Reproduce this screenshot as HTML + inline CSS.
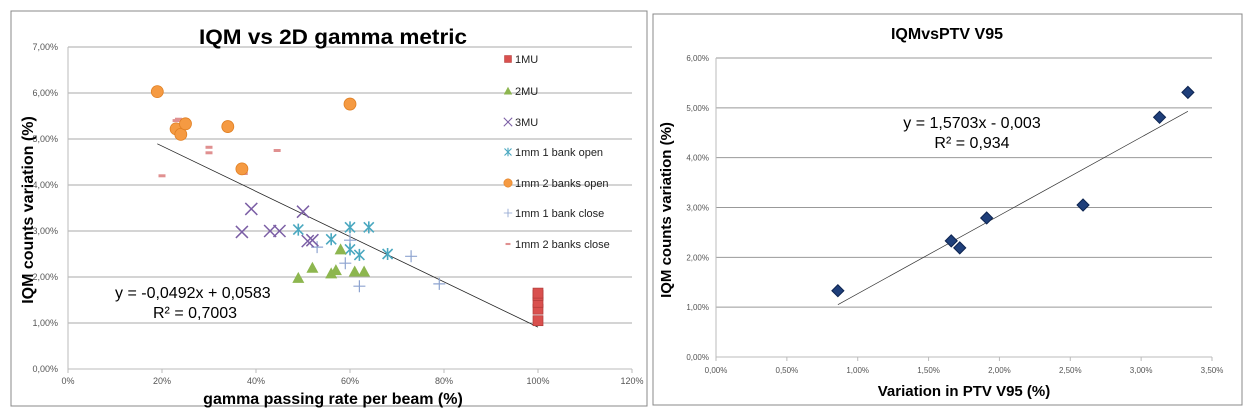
<!DOCTYPE html>
<html><head><meta charset="utf-8"><style>
body{margin:0;width:1250px;height:412px;background:#fff;overflow:hidden;font-family:"Liberation Sans",sans-serif}
svg{position:absolute;left:0;top:0}
</style></head><body>
<svg width="1250" height="412">
<rect x="11" y="11" width="636" height="395" fill="#fff" stroke="#888"/>
<rect x="653" y="14" width="589" height="391" fill="#fff" stroke="#888"/>
<g id="L"></g><g id="R"></g>
<text x="333" y="44" font-size="21" font-weight="bold" text-anchor="middle" textLength="268" lengthAdjust="spacingAndGlyphs">IQM vs 2D gamma metric</text>
<text x="333" y="404" font-size="16" font-weight="bold" text-anchor="middle">gamma passing rate per beam (%)</text>
<text transform="translate(33,210) rotate(-90)" font-size="16" font-weight="bold" text-anchor="middle">IQM counts variation (%)</text>
<text x="115" y="298" font-size="16">y = -0,0492x + 0,0583</text>
<text x="153" y="318" font-size="16">R² = 0,7003</text>
<text x="947" y="39" font-size="16" font-weight="bold" text-anchor="middle">IQMvsPTV V95</text>
<text x="964" y="396" font-size="15" font-weight="bold" text-anchor="middle">Variation in PTV V95 (%)</text>
<text transform="translate(671,210) rotate(-90)" font-size="15" font-weight="bold" text-anchor="middle">IQM counts variation (%)</text>
<text x="972" y="128" font-size="16" text-anchor="middle">y = 1,5703x - 0,003</text>
<text x="972" y="148" font-size="16" text-anchor="middle">R² = 0,934</text>
</svg>
<script>
// Left chart data (x in %, y in %)
const mu1X=[100,100,100,100,100];const mu1Y=[1.05,1.3,1.45,1.6,1.65];
const mu2X=[49,52,56,57,58,61,63];const mu2Y=[1.98,2.2,2.08,2.15,2.6,2.12,2.12];
const mu3X=[37,39,43,45,50,51,52];const mu3Y=[2.98,3.48,3.0,3.0,3.42,2.78,2.8];
const b1oX=[49,56,60,60,62,64,68];const b1oY=[3.03,2.82,3.08,2.6,2.48,3.08,2.5];
const b2oX=[19,23,24,25,34,37,60];const b2oY=[6.03,5.22,5.1,5.33,5.27,4.35,5.76];
const b1cX=[53,59,60,62,73,79];const b1cY=[2.65,2.3,2.8,1.8,2.45,1.85];
const b2cX=[20,23,23.5,30,30,37.5,44.5];const b2cY=[4.2,5.4,5.43,4.82,4.7,4.25,4.75];
const leftXTicks=["0%","20%","40%","60%","80%","100%","120%"];
const leftYTicks=["0,00%","1,00%","2,00%","3,00%","4,00%","5,00%","6,00%","7,00%"];
const leftTrend=[-0.0492,0.0583];const leftTrendRange=[19,100];
// Right chart data
const ptvX=[0.86,1.66,1.72,1.91,2.59,3.13,3.33];
const ptvY=[1.33,2.33,2.19,2.79,3.05,4.81,5.31];
const rightXTicks=["0,00%","0,50%","1,00%","1,50%","2,00%","2,50%","3,00%","3,50%"];
const rightYTicks=["0,00%","1,00%","2,00%","3,00%","4,00%","5,00%","6,00%"];
const rightTrend=[1.5703,-0.003];const rightTrendRange=[0.86,3.33];

const NS="http://www.w3.org/2000/svg";
function mk(p,t,a){const e=document.createElementNS(NS,t);for(const k in a)e.setAttribute(k,a[k]);p.appendChild(e);return e;}
const L=document.getElementById('L'),R=document.getElementById('R');
const lx=v=>68+v/120*564, ly=v=>369-v/7*322;
const rx=v=>716+v/3.5*496, ry=v=>357-v/6*299;

leftYTicks.forEach((t,i)=>{
 let g=mk(L,'line',{x1:68,x2:632,y1:ly(i),y2:ly(i),stroke:i==0?'#bbb':'#aaa','stroke-width':1});
 
 
 let tx=mk(L,'text',{x:58,y:ly(i)+3,'font-size':9,fill:'#555','text-anchor':'end'});tx.textContent=t;
 
 
});
mk(L,'line',{x1:68,x2:68,y1:ly(7),y2:ly(0),stroke:'#bbb'});
leftXTicks.forEach((t,i)=>{
 const x=lx(i*20);
 mk(L,'line',{x1:x,x2:x,y1:369,y2:373,stroke:'#bbb'});
 let tx=mk(L,'text',{x:x,y:384,'font-size':9,fill:'#555','text-anchor':'middle'});tx.textContent=t;
 
 
});
let tl=mk(L,'line',{x1:lx(leftTrendRange[0]),y1:ly((leftTrend[0]*leftTrendRange[0]/100+leftTrend[1])*100),x2:lx(leftTrendRange[1]),y2:ly((leftTrend[0]*leftTrendRange[1]/100+leftTrend[1])*100),stroke:'#222','stroke-width':0.8});



function marker(p,type,x,y){
 const g=mk(p,'g',{});
 if(type=='sq')mk(g,'rect',{x:x-5,y:y-5,width:10,height:10,fill:'#d9504e',stroke:'#b03a38','stroke-width':0.7});
 if(type=='tri')mk(g,'polygon',{points:`${x},${y-6} ${x-6},${y+5} ${x+6},${y+5}`,fill:'#8db64f'});
 if(type=='x'){mk(g,'path',{d:`M${x-6} ${y-6}L${x+6} ${y+6}M${x+6} ${y-6}L${x-6} ${y+6}`,stroke:'#7b5ea5','stroke-width':1.5});}
 if(type=='ast'){mk(g,'path',{d:`M${x-5} ${y-5}L${x+5} ${y+5}M${x+5} ${y-5}L${x-5} ${y+5}M${x} ${y-6}L${x} ${y+6}`,stroke:'#4aa8c0','stroke-width':1.6});}
 if(type=='circ')mk(g,'circle',{cx:x,cy:y,r:6,fill:'#f59a42',stroke:'#e07f22','stroke-width':0.8});
 if(type=='plus')mk(g,'path',{d:`M${x-6} ${y}L${x+6} ${y}M${x} ${y-6}L${x} ${y+6}`,stroke:'#8ea4d0','stroke-width':1.2});
 if(type=='dash')mk(g,'rect',{x:x-3.5,y:y-1.5,width:7,height:3,fill:'#e09090'});
 if(type=='dia')mk(g,'polygon',{points:`${x},${y-6} ${x+6},${y} ${x},${y+6} ${x-6},${y}`,fill:'#1f3f7a',stroke:'#0d2450'});
 return g;
}
const series=[[b2cX,b2cY,'dash','1mm-2-banks-close'],[b1cX,b1cY,'plus','1mm-1-bank-close'],[b2oX,b2oY,'circ','1mm-2-banks-open'],[mu3X,mu3Y,'x','3mu'],[b1oX,b1oY,'ast','1mm-1-bank-open'],[mu2X,mu2Y,'tri','2mu'],[mu1X,mu1Y,'sq','1mu']];
series.forEach(s=>{s[0].forEach((xv,i)=>{const m=marker(L,s[2],lx(xv),ly(s[1][i]));
 
 });});
const leg=[['sq','1MU',59],['tri','2MU',91],['x','3MU',122],['ast','1mm 1 bank open',152],['circ','1mm 2 banks open',183],['plus','1mm 1 bank close',213],['dash','1mm 2 banks close',244]];
leg.forEach(l=>{
 const g=mk(L,'g',{});
 
 
 const m=marker(g,l[0],508,l[2]);m.setAttribute('transform',`translate(${508*0.3},${l[2]*0.3}) scale(0.7)`);
 const t=mk(g,'text',{x:515,y:l[2]+4,'font-size':11,fill:'#222'});t.textContent=l[1];
});

rightYTicks.forEach((t,i)=>{
 let g=mk(R,'line',{x1:716,x2:1212,y1:ry(i),y2:ry(i),stroke:i==0?'#bbb':'#999'});
 
 
 let tx=mk(R,'text',{x:709,y:ry(i)+3,'font-size':8,fill:'#555','text-anchor':'end'});tx.textContent=t;
 
 
});
mk(R,'line',{x1:716,x2:716,y1:ry(6),y2:ry(0),stroke:'#bbb'});
rightXTicks.forEach((t,i)=>{
 const x=rx(i*0.5);
 mk(R,'line',{x1:x,x2:x,y1:357,y2:361,stroke:'#bbb'});
 let tx=mk(R,'text',{x:x,y:373,'font-size':8,fill:'#555','text-anchor':'middle'});tx.textContent=t;
 
 
});
let rt=mk(R,'line',{x1:rx(rightTrendRange[0]),y1:ry(rightTrend[0]*rightTrendRange[0]+rightTrend[1]*100),x2:rx(rightTrendRange[1]),y2:ry(rightTrend[0]*rightTrendRange[1]+rightTrend[1]*100),stroke:'#333','stroke-width':0.7});


ptvX.forEach((xv,i)=>{const m=marker(R,'dia',rx(xv),ry(ptvY[i]));
 
 });
</script>
</body></html>
